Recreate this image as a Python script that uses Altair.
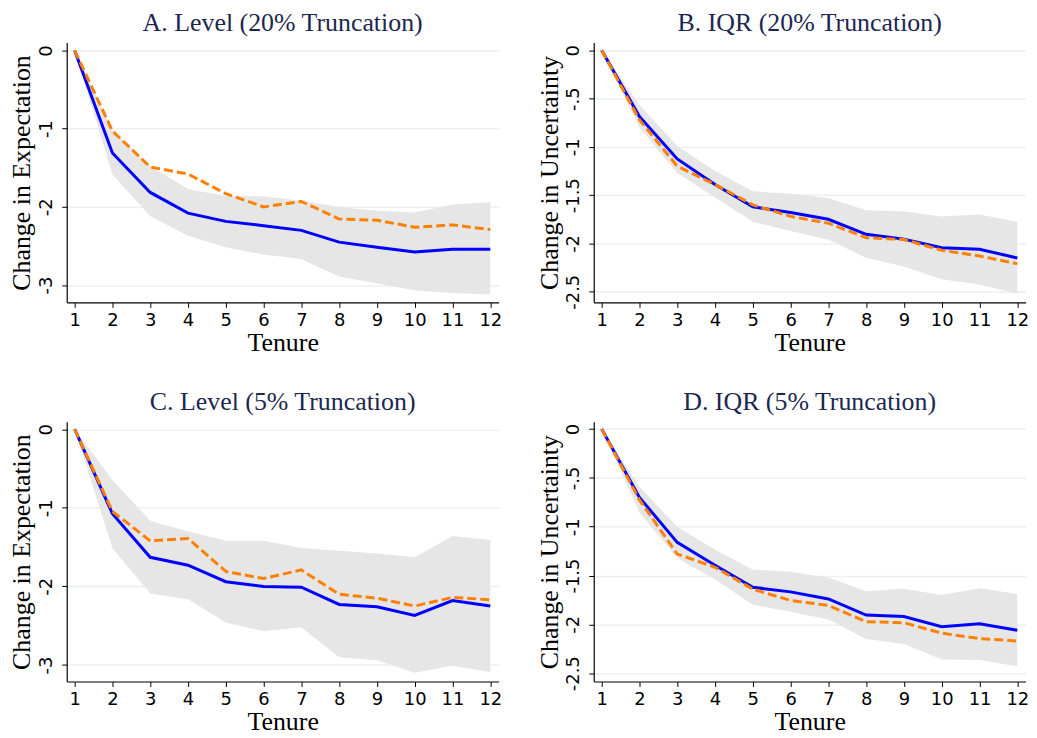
import altair as alt
import pandas as pd

tenure = list(range(1, 13))

# Panel A: Level (20% Truncation)
a_main = [0, -1.31, -1.815, -2.08, -2.185, -2.24, -2.30, -2.45, -2.515, -2.575, -2.54, -2.54]
a_alt = [0, -1.03, -1.49, -1.58, -1.83, -2.00, -1.93, -2.155, -2.17, -2.26, -2.23, -2.29]
a_hi = [0, -1.02, -1.48, -1.77, -1.86, -1.865, -1.92, -2.00, -2.05, -2.07, -1.97, -1.94]
a_lo = [0, -1.585, -2.12, -2.37, -2.515, -2.61, -2.67, -2.89, -2.975, -3.07, -3.10, -3.12]

# Panel B: IQR (20% Truncation)
b_main = [0, -0.686, -1.125, -1.39, -1.62, -1.68, -1.75, -1.905, -1.955, -2.045, -2.06, -2.15]
b_alt = [0, -0.72, -1.20, -1.39, -1.60, -1.72, -1.79, -1.94, -1.96, -2.07, -2.13, -2.21]
b_hi = [0, -0.566, -0.99, -1.25, -1.46, -1.485, -1.53, -1.655, -1.67, -1.72, -1.70, -1.775]
b_lo = [0, -0.80, -1.27, -1.525, -1.775, -1.87, -1.96, -2.15, -2.24, -2.37, -2.425, -2.52]

# Panel C: Level (5% Truncation)
c_main = [0, -1.076, -1.63, -1.73, -1.94, -2.00, -2.01, -2.23, -2.26, -2.37, -2.18, -2.25]
c_alt = [0, -1.046, -1.42, -1.39, -1.81, -1.90, -1.79, -2.10, -2.15, -2.25, -2.14, -2.17]
c_hi = [0, -0.645, -1.165, -1.30, -1.42, -1.42, -1.51, -1.545, -1.58, -1.63, -1.36, -1.41]
c_lo = [0, -1.51, -2.09, -2.165, -2.46, -2.57, -2.52, -2.90, -2.94, -3.10, -3.01, -3.09]

# Panel D: IQR (5% Truncation)
d_main = [0, -0.70, -1.16, -1.395, -1.62, -1.667, -1.74, -1.905, -1.92, -2.024, -1.993, -2.06]
d_alt = [0, -0.725, -1.28, -1.415, -1.64, -1.755, -1.806, -1.973, -1.983, -2.09, -2.146, -2.17]
d_hi = [0, -0.59, -1.00, -1.235, -1.44, -1.46, -1.52, -1.66, -1.635, -1.70, -1.63, -1.69]
d_lo = [0, -0.855, -1.32, -1.54, -1.80, -1.87, -1.95, -2.15, -2.20, -2.36, -2.365, -2.43]

level_ticks = [0, -1, -2, -3]
iqr_ticks = [0, -0.5, -1, -1.5, -2, -2.5]

SERIF = "Liberation Serif"
SANS = "DejaVu Sans"
TITLE_COLOR = "#1c2750"
BLUE = "#0000ff"
ORANGE = "#ff8000"
BAND = "#e6e6e6"
GRID = "#e9f1f2"

W, H = 434, 261


def panel(title, ytitle, main, alt_s, lo, hi, ydomain, yticks, title_x):
    df = pd.DataFrame({"tenure": tenure, "main": main, "alt": alt_s, "lo": lo, "hi": hi})
    xenc = alt.X(
        "tenure:Q",
        scale=alt.Scale(domain=[0.79, 12.22], nice=False, zero=False),
        axis=alt.Axis(
            values=tenure, title="Tenure", grid=False,
            labelFont=SANS, labelFontSize=18, labelColor="black", labelPadding=4,
            labelOverlap=False, labelFlush=False,
            tickSize=5, tickColor="black", tickWidth=1,
            domainColor="black", domainWidth=1.2,
            titleFont=SERIF, titleFontSize=26, titleFontWeight="normal", titleColor="black",
            titleBaseline="alphabetic", titleY=48.5,
        ),
    )
    yaxis = alt.Axis(
        values=yticks, title=ytitle, grid=True, gridColor=GRID, gridWidth=1.5,
        labelFont=SANS, labelFontSize=18, labelColor="black", labelAngle=270,
        labelAlign="center", labelBaseline="alphabetic", labelPadding=10,
        labelOverlap=False, labelFlush=False,
        labelExpr="datum.value == -0.5 ? '-.5' : '' + datum.value",
        tickSize=5, tickColor="black", tickWidth=1,
        domainColor="black", domainWidth=1.2,
        titleFont=SERIF, titleFontSize=26, titleFontWeight="normal", titleColor="black",
        titleBaseline="alphabetic", titleX=title_x,
    )
    yscale = alt.Scale(domain=ydomain, nice=False, zero=False)
    base = alt.Chart(df)
    band = base.mark_area(color=BAND, opacity=1).encode(
        x=xenc, y=alt.Y("lo:Q", scale=yscale, axis=yaxis), y2="hi:Q"
    )
    blue = base.mark_line(color=BLUE, strokeWidth=3).encode(
        x=xenc, y=alt.Y("main:Q", scale=yscale, axis=yaxis)
    )
    orange = base.mark_line(color=ORANGE, strokeWidth=3, strokeDash=[9, 4]).encode(
        x=xenc, y=alt.Y("alt:Q", scale=yscale, axis=yaxis)
    )
    return alt.layer(band, blue, orange).properties(
        width=W, height=H,
        title=alt.TitleParams(
            text=title, font=SERIF, fontSize=26, fontWeight="normal", color=TITLE_COLOR,
            anchor="middle", frame="group", baseline="alphabetic", offset=-14.5,
        ),
    )


pA = panel("A. Level (20% Truncation)", "Change in Expectation", a_main, a_alt, a_lo, a_hi,
           [-3.22, 0.1], level_ticks, -37.5)
pB = panel("B. IQR (20% Truncation)", "Change in Uncertainty", b_main, b_alt, b_lo, b_hi,
           [-2.61, 0.08], iqr_ticks, -36.5)
pC = panel("C. Level (5% Truncation)", "Change in Expectation", c_main, c_alt, c_lo, c_hi,
           [-3.21, 0.095], level_ticks, -37.5)
pD = panel("D. IQR (5% Truncation)", "Change in Uncertainty", d_main, d_alt, d_lo, d_hi,
           [-2.585, 0.075], iqr_ticks, -36.5)

chart = alt.concat(
    pA, pB, pC, pD, columns=2,
    spacing={"row": 120, "column": 95.6}, bounds="flush",
).properties(
    padding=0, background="white"
).configure_view(stroke=None)

chart.save("out.html", embed_options={"renderer": "svg", "actions": False})
